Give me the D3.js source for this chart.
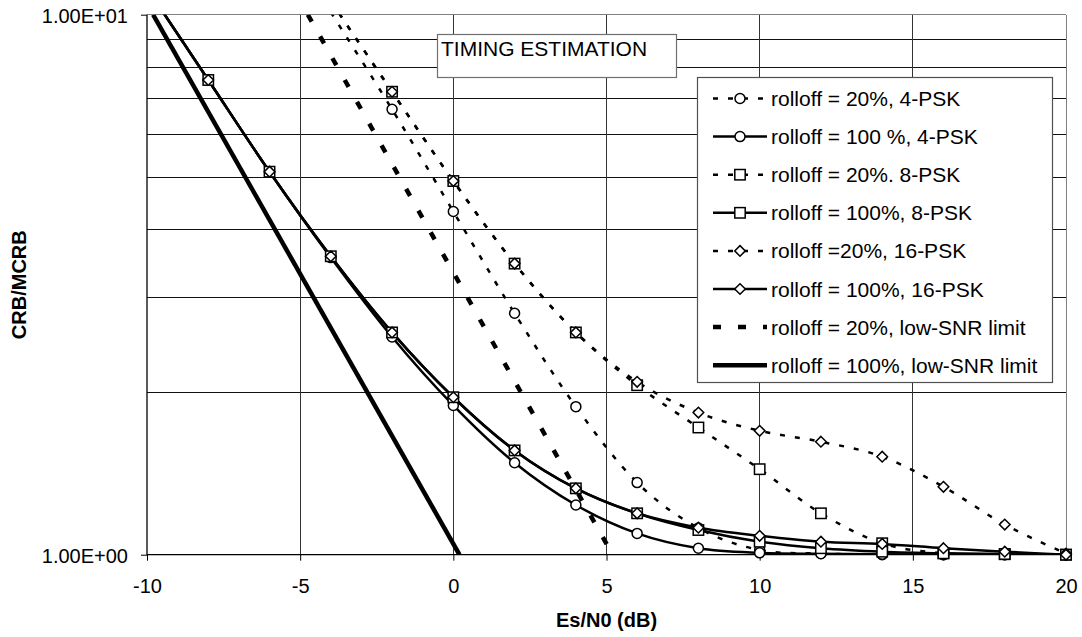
<!DOCTYPE html>
<html lang="en">
<head>
  <meta charset="UTF-8">
  <title>Timing estimation</title>
  <script src="https://cdn.jsdelivr.net/npm/d3@7"></script>
  <style>
    body { margin: 0; background: #fff; }
    svg { display: block; font-family: "Liberation Sans", Arial, sans-serif; }
  </style>
</head>
<body>
<div id="graph"></div>

<script>
  // data (null = outside the plotted range)
  const esN0 = [-10, -8, -6, -4, -2, 0, 2, 4, 6, 8, 10, 12, 14, 16, 18, 20]
  const roll20Psk4 = [null, null, null, 10.1, 6.68, 4.32, 2.80, 1.88, 1.36, 1.12, 1.02, 1.005, 1.0, 1.0, 1.0, 1.0]
  const roll100Psk4 = [11.2, 7.57, 5.12, 3.55, 2.53, 1.89, 1.48, 1.236, 1.095, 1.028, 1.008, 1.004, 1.002, 1.0, 1.0, 1.0]
  const roll20Psk8 = [null, null, null, 10.6, 7.20, 4.92, 3.46, 2.58, 2.06, 1.72, 1.44, 1.193, 1.05, 1.006, 1.002, 1.0]
  const roll100Psk8 = [11.2, 7.57, 5.12, 3.57, 2.58, 1.957, 1.56, 1.327, 1.193, 1.111, 1.057, 1.028, 1.013, 1.006, 1.003, 1.0]
  const roll20Psk16 = [null, null, null, 10.6, 7.20, 4.92, 3.46, 2.58, 2.09, 1.833, 1.696, 1.619, 1.519, 1.336, 1.137, 1.005]
  const roll100Psk16 = [11.2, 7.57, 5.12, 3.57, 2.58, 1.957, 1.56, 1.327, 1.193, 1.122, 1.084, 1.057, 1.047, 1.028, 1.013, 1.0]

  // low-SNR limits are straight lines on the semi-log plot
  const limit20X = [-4.75, 5.2]
  const limit100X = [-9.8, 0.2]
  const limitY = [10, 1]

  const xTicks = [-10, -5, 0, 5, 10, 15, 20]
  const yTicks = [1, 10]
  const yGrid = [2, 3, 4, 5, 6, 7, 8, 9, 10]

  const legendLabels = [
    'rolloff = 20%, 4-PSK',
    'rolloff = 100 %, 4-PSK',
    'rolloff = 20%. 8-PSK',
    'rolloff = 100%, 8-PSK',
    'rolloff =20%, 16-PSK',
    'rolloff = 100%, 16-PSK',
    'rolloff = 20%, low-SNR limit',
    'rolloff = 100%, low-SNR limit'
  ]

  // styles
  const DOTTED = '5,10'
  const series = [
    {xs: esN0, ys: roll20Psk4, dash: DOTTED, width: 2.5, marker: 'circle'},
    {xs: esN0, ys: roll100Psk4, dash: null, width: 2.5, marker: 'circle'},
    {xs: esN0, ys: roll20Psk8, dash: DOTTED, width: 2.5, marker: 'square'},
    {xs: esN0, ys: roll100Psk8, dash: null, width: 2.5, marker: 'square'},
    {xs: esN0, ys: roll20Psk16, dash: DOTTED, width: 2.5, marker: 'diamond'},
    {xs: esN0, ys: roll100Psk16, dash: null, width: 2.5, marker: 'diamond'},
    {xs: limit20X, ys: limitY, dash: '8,17', width: 4.5, marker: null},
    {xs: limit100X, ys: limitY, dash: null, width: 4.5, marker: null}
  ].map((s, i) => ({...s, label: legendLabels[i]}))

  const width = 1082
  const height = 637
  const plotLeft = 147
  const plotRight = 1066
  const plotTop = 14.7
  const plotBottom = 554.7

  const svg = d3.select('#graph')
  .append('svg')
  .attr('width', width)
  .attr('height', height)

  const x = d3.scaleLinear().domain([-10, 20]).range([plotLeft, plotRight])
  const y = d3.scaleLog().domain([1, 10]).range([plotBottom, plotTop])

  svg.append('clipPath')
  .attr('id', 'plot')
  .append('rect')
  .attr('x', plotLeft)
  .attr('y', plotTop)
  .attr('width', plotRight - plotLeft)
  .attr('height', plotBottom - plotTop)

  // grid
  const grid = svg.append('g').attr('shape-rendering', 'crispEdges')
  grid.selectAll('line.h')
  .data(yGrid)
  .join('line')
  .attr('class', 'h')
  .attr('x1', plotLeft).attr('x2', plotRight)
  .attr('y1', d => y(d)).attr('y2', d => y(d))
  .attr('stroke', d => d === 10 ? '#808080' : '#111')
  grid.selectAll('line.v')
  .data(xTicks.slice(1))
  .join('line')
  .attr('class', 'v')
  .attr('x1', d => x(d)).attr('x2', d => x(d))
  .attr('y1', plotTop).attr('y2', plotBottom)
  .attr('stroke', d => d === 20 ? '#808080' : '#333')

  // axes
  const sciFormat = d => {
    const [m, e] = d.toExponential(2).split('e')
    return `${m}E${e[0]}${e.slice(1).padStart(2, '0')}`
  }

  svg.append('g')
  .attr('transform', `translate(0,${plotBottom})`)
  .call(d3.axisBottom(x).tickValues(xTicks).tickSize(6).tickPadding(18).tickFormat(d => String(d)))
  .call(g => g.select('.domain').remove())
  .call(g => g.selectAll('text').attr('font-size', 20).attr('fill', '#000'))
  .call(g => g.selectAll('.tick line').attr('stroke', '#000'))
  .attr('font-family', null)

  svg.append('g')
  .attr('transform', `translate(${plotLeft},0)`)
  .call(d3.axisLeft(y).tickValues(yTicks).tickSize(6).tickPadding(13).tickFormat(sciFormat))
  .call(g => g.select('.domain').remove())
  .call(g => g.selectAll('text').attr('font-size', 20).attr('dy', '0.4em').attr('fill', '#000'))
  .call(g => g.selectAll('.tick line').attr('stroke', '#000'))
  .attr('font-family', null)

  svg.append('line')
  .attr('x1', plotLeft).attr('x2', plotLeft).attr('y1', plotTop).attr('y2', plotBottom + 0.5)
  .attr('stroke', '#000').attr('stroke-width', 1.3)
  svg.append('line')
  .attr('x1', plotLeft).attr('x2', plotRight).attr('y1', plotBottom).attr('y2', plotBottom)
  .attr('stroke', '#000').attr('stroke-width', 1.3)

  svg.append('text')
  .attr('x', (plotLeft + plotRight) / 2)
  .attr('y', 627)
  .attr('text-anchor', 'middle')
  .attr('font-size', 20)
  .attr('font-weight', 'bold')
  .text('Es/N0 (dB)')

  svg.append('text')
  .attr('transform', `translate(26,${(plotTop + plotBottom) / 2}) rotate(-90)`)
  .attr('text-anchor', 'middle')
  .attr('font-size', 20)
  .attr('font-weight', 'bold')
  .text('CRB/MCRB')

  // markers
  const drawMarker = (g, type, cx, cy) => {
    if (type === 'circle') {
      g.append('circle').attr('cx', cx).attr('cy', cy).attr('r', 5)
    } else if (type === 'square') {
      g.append('rect').attr('x', cx - 5.2).attr('y', cy - 5.2).attr('width', 10.4).attr('height', 10.4)
    } else if (type === 'diamond') {
      g.append('path').attr('d', `M${cx},${cy - 5.3}L${cx + 5.3},${cy}L${cx},${cy + 5.3}L${cx - 5.3},${cy}Z`)
    }
  }

  // series: lines are clipped to the plot area, markers are only drawn inside the domain
  const line = d3.line()
  .defined(d => d[1] != null)
  .x(d => x(d[0]))
  .y(d => y(d[1]))
  .curve(d3.curveCardinal.tension(0))

  const plot = svg.append('g').attr('clip-path', 'url(#plot)')
  const marks = svg.append('g')

  series.forEach(s => {
    const pts = s.xs.map((v, i) => [v, s.ys[i]])
    plot.append('path')
    .datum(pts)
    .attr('d', line)
    .attr('fill', 'none')
    .attr('stroke', '#000')
    .attr('stroke-width', s.width)
    .attr('stroke-dasharray', s.dash)
    .attr('stroke-linejoin', 'round')

    if (s.marker) {
      const mg = marks.append('g')
      .attr('fill', '#fff')
      .attr('stroke', '#000')
      .attr('stroke-width', 1.5)
      pts.filter(d => d[1] != null && d[1] <= 10)
      .forEach(d => drawMarker(mg, s.marker, x(d[0]), y(d[1])))
    }
  })

  // title box
  svg.append('rect')
  .attr('x', 437.5).attr('y', 34.5).attr('width', 239).attr('height', 43)
  .attr('fill', '#fff').attr('stroke', '#707070').attr('stroke-width', 1.2)
  svg.append('text')
  .attr('x', 441).attr('y', 56)
  .attr('font-size', 21)
  .text('TIMING ESTIMATION')

  // legend
  const legend = svg.append('g')
  legend.append('rect')
  .attr('x', 697.5).attr('y', 77.5).attr('width', 355).attr('height', 305)
  .attr('fill', '#fff').attr('stroke', '#505050').attr('stroke-width', 1.2)

  series.forEach((s, i) => {
    const cy = 98.5 + i * 38.1
    const row = legend.append('g')
    row.append('line')
    .attr('x1', 713).attr('x2', 767).attr('y1', cy).attr('y2', cy)
    .attr('stroke', '#000')
    .attr('stroke-width', s.width)
    .attr('stroke-dasharray', s.dash)
    if (s.marker) {
      const mg = row.append('g').attr('fill', '#fff').attr('stroke', '#000').attr('stroke-width', 1.5)
      drawMarker(mg, s.marker, 740, cy)
    }
    row.append('text')
    .attr('x', 771).attr('y', cy + 7.5)
    .attr('font-size', 21)
    .text(s.label)
  })
</script>
</body>
</html>
